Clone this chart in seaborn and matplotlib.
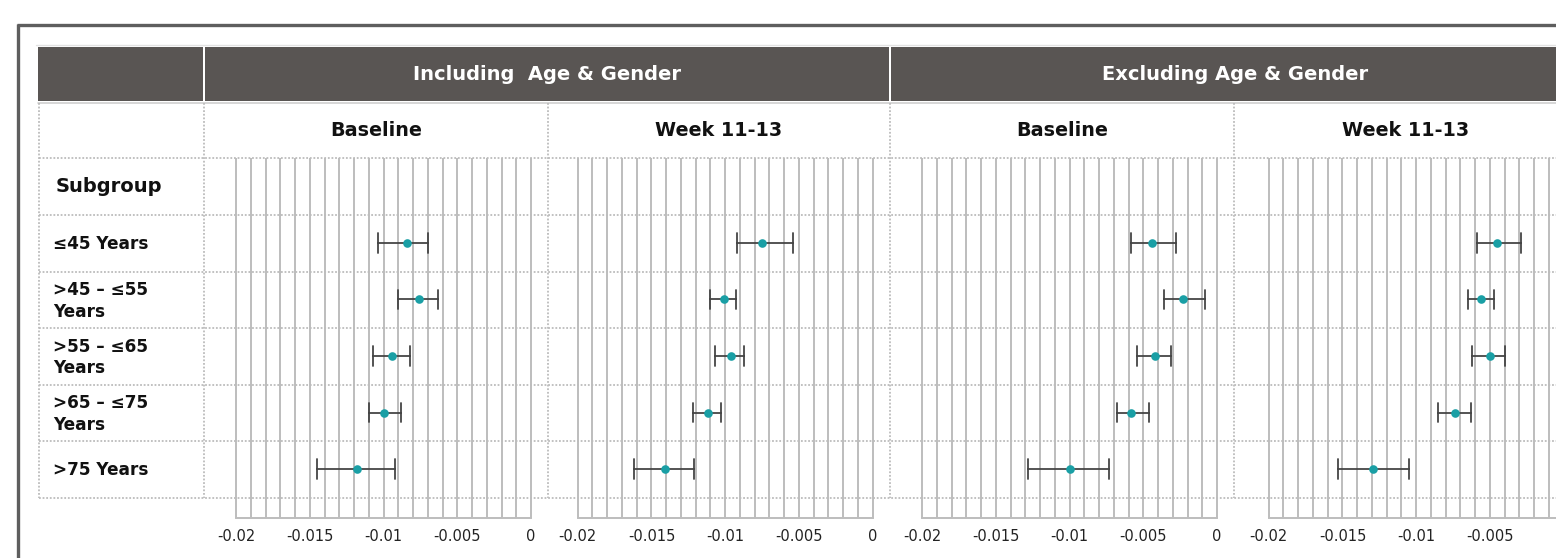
import numpy as np
import pandas as pd
import matplotlib
matplotlib.use("Agg")
import matplotlib.pyplot as plt
from matplotlib.patches import Rectangle
from matplotlib.ticker import FixedLocator, FuncFormatter
import seaborn as sns

# ---- data -------------------------------------------------------------
subgroups = ["≤45 Years", ">45 – ≤55\nYears", ">55 – ≤65\nYears",
             ">65 – ≤75\nYears", ">75 Years"]
models = ["Including  Age & Gender", "Excluding Age & Gender"]
timepoints = ["Baseline", "Week 11-13"]

incl_base_est = [-0.0084, -0.0076, -0.0094, -0.0100, -0.0118]
incl_base_lo = [-0.0104, -0.0090, -0.0107, -0.0110, -0.0145]
incl_base_hi = [-0.0070, -0.0063, -0.0082, -0.0088, -0.0092]

incl_week_est = [-0.0075, -0.0101, -0.0096, -0.0112, -0.0141]
incl_week_lo = [-0.0092, -0.0110, -0.0107, -0.0122, -0.0162]
incl_week_hi = [-0.0054, -0.0093, -0.0087, -0.0103, -0.0121]

excl_base_est = [-0.0044, -0.0023, -0.0042, -0.0058, -0.0100]
excl_base_lo = [-0.0058, -0.0036, -0.0054, -0.0068, -0.0128]
excl_base_hi = [-0.0028, -0.0008, -0.0031, -0.0046, -0.0073]

excl_week_est = [-0.0045, -0.0056, -0.0050, -0.0074, -0.0129]
excl_week_lo = [-0.0059, -0.0065, -0.0062, -0.0085, -0.0153]
excl_week_hi = [-0.0029, -0.0047, -0.0040, -0.0063, -0.0105]

tick_values = [-0.02, -0.015, -0.01, -0.005, 0.0]

panels = [
    (models[0], timepoints[0], incl_base_est, incl_base_lo, incl_base_hi),
    (models[0], timepoints[1], incl_week_est, incl_week_lo, incl_week_hi),
    (models[1], timepoints[0], excl_base_est, excl_base_lo, excl_base_hi),
    (models[1], timepoints[1], excl_week_est, excl_week_lo, excl_week_hi),
]

# long-form table: each subgroup carries its lower bound, estimate and upper
# bound, so the median is the estimate and the 0-100 percentile interval is the CI
records = []
for model, tp, est, lo, hi in panels:
    for sg, e, l, h in zip(subgroups, est, lo, hi):
        for v in (l, e, h):
            records.append({"model": model, "time": tp, "subgroup": sg, "value": v})
df = pd.DataFrame(records)

# ---- styling ----------------------------------------------------------
sns.set_style("white")
plt.rcParams["font.family"] = ["DejaVu Sans"]

HEADER = "#595553"
POINT = "#1a9fa5"
ERR = "#454545"
GRID = "#bdbdbd"
DOT = "#bcbcbc"
BORDER = "#5e5e5e"

W, H = 1556, 558
fig = plt.figure(figsize=(W / 100, H / 100), dpi=100)


def px_rect(x, y, w, h):
    return [x / W, 1 - (y + h) / H, w / W, h / H]


# background layer in pixel coordinates (y downwards)
bg = fig.add_axes([0, 0, 1, 1], zorder=0)
bg.set_xlim(0, W)
bg.set_ylim(H, 0)
bg.axis("off")

# outer frame
bg.plot([18.5, 18.5], [24, H + 5], color=BORDER, lw=2.4, solid_capstyle="butt")
bg.plot([17, W + 5], [24.5, 24.5], color=BORDER, lw=2.4, solid_capstyle="butt")
bg.plot([36, W + 5], [45, 45], color="#e2e2e2", lw=1.0)

# header band
hdr_top, hdr_bot = 47, 101
bg.add_patch(Rectangle((38, hdr_top), 165, hdr_bot - hdr_top, color=HEADER, lw=0))
bg.add_patch(Rectangle((205.5, hdr_top), 683.5, hdr_bot - hdr_top, color=HEADER, lw=0))
bg.add_patch(Rectangle((891.5, hdr_top), 700, hdr_bot - hdr_top, color=HEADER, lw=0))
bg.plot([38, W + 5], [102.5, 102.5], color="#cfcfcf", lw=1.2)

bg.text(547, 75, models[0], color="white", fontsize=14, fontweight="bold",
        ha="center", va="center")
bg.text(1235, 75, models[1], color="white", fontsize=14, fontweight="bold",
        ha="center", va="center")

# sub-header cells
panel_edges = [204, 548, 890, 1234, 1578]
for i, (model, tp, *_r) in enumerate(panels):
    cx = (panel_edges[i] + panel_edges[i + 1]) / 2
    bg.text(cx, 131, tp, fontsize=13.8, fontweight="bold", ha="center",
            va="center", color="#111111")

bg.text(56, 187, "Subgroup", fontsize=14, fontweight="bold", ha="left",
        va="center", color="#111111")

row_edges = [158, 215, 271.7, 328, 384.7, 441, 497.7]
row_centers = [(a + b) / 2 for a, b in zip(row_edges[1:-1], row_edges[2:])]
for sg, yc in zip(subgroups, row_centers):
    bg.text(53, yc + 1, sg, fontsize=12.2, fontweight="bold", ha="left",
            va="center", color="#111111", linespacing=1.25)

# ---- forest panels ----------------------------------------------------
XMIN, XMAX = -0.02217, 0.00115
axes_left = [204, 545.7, 890, 1236.7]
grid_ticks = np.round(np.arange(-20, 1) * 0.001, 4)


def make_formatter(shown):
    def fmt(v, _pos):
        r = round(v, 4)
        if any(abs(r - t) < 1e-9 for t in shown):
            return "0" if abs(r) < 1e-12 else f"{r:g}"
        return ""
    return fmt


for i, (model, tp, *_r) in enumerate(panels):
    ax = fig.add_axes(px_rect(axes_left[i], 158, 344, 360), zorder=1)
    ax.set_facecolor("none")
    sub = df[(df["model"] == model) & (df["time"] == tp)]
    sns.pointplot(data=sub, x="value", y="subgroup", order=subgroups,
                  estimator="median", errorbar=("pi", 100), capsize=0.35,
                  color=POINT, linestyle="none", markersize=6.2,
                  markeredgewidth=0,
                  err_kws={"color": ERR, "linewidth": 1.3}, ax=ax)
    for ln in ax.lines:
        if ln.get_marker() not in (None, "None", "", " "):
            ln.set_zorder(5)
    ax.set_xlim(XMIN, XMAX)
    ax.set_ylim(4.867, -1.504)
    ax.set_yticks([])
    ax.set_xlabel("")
    ax.set_ylabel("")
    # the last panel runs past the right edge of the page, so its "0" is not shown
    shown = tick_values if i < len(panels) - 1 else tick_values[:-1]
    ax.xaxis.set_major_locator(FixedLocator(grid_ticks))
    ax.xaxis.set_major_formatter(FuncFormatter(make_formatter(shown)))
    ax.grid(axis="x", color=GRID, lw=1.4)
    ax.set_axisbelow(True)
    for s in ("top", "left", "right"):
        ax.spines[s].set_visible(False)
    ax.spines["bottom"].set_color("#bdbdbd")
    ax.spines["bottom"].set_linewidth(1.4)
    ax.spines["bottom"].set_bounds(-0.02, 0)
    ax.tick_params(axis="x", direction="out", length=3.2, width=1.0,
                   color="#bdbdbd", labelsize=10.5, labelcolor="#222222",
                   pad=4.5)

# ---- table rules drawn over the panels ---------------------------------
top = fig.add_axes([0, 0, 1, 1], zorder=3)
top.set_xlim(0, W)
top.set_ylim(H, 0)
top.axis("off")
top.patch.set_alpha(0)
for y in row_edges:
    top.plot([39, W + 5], [y, y], color=DOT, lw=1.3, ls=(0, (1, 1)))
for x in [39] + panel_edges[:4]:
    top.plot([x, x], [103, row_edges[-1]], color=DOT, lw=1.3, ls=(0, (1, 1)))

fig.savefig("out.png", dpi=100)
